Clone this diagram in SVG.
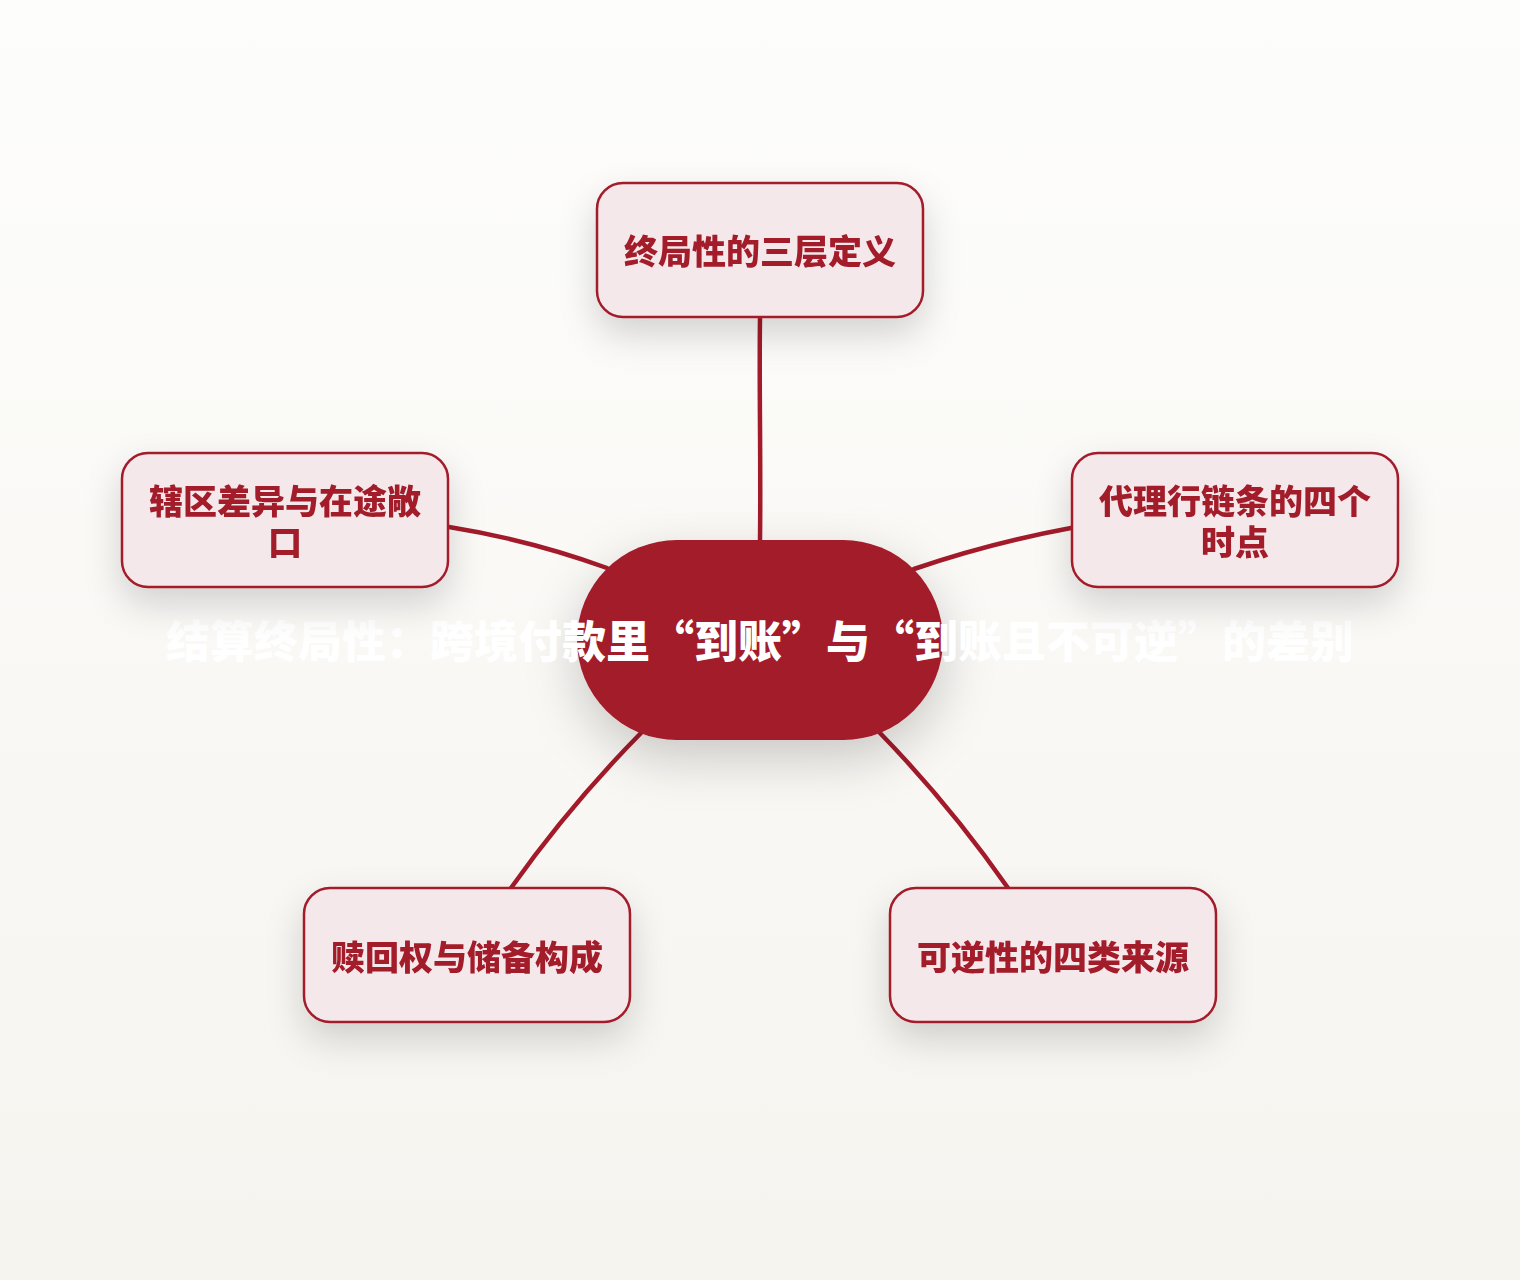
<svg xmlns="http://www.w3.org/2000/svg" width="1520" height="1280" viewBox="0 0 1520 1280">
<defs>
<linearGradient id="bg" x1="0" y1="0" x2="0" y2="1">
<stop offset="0" stop-color="#FDFDFC"/>
<stop offset="1" stop-color="#F6F4EF"/>
</linearGradient>
<filter id="sh" x="-30%" y="-50%" width="160%" height="220%">
<feDropShadow dx="0" dy="16" stdDeviation="18" flood-color="#000" flood-opacity="0.16"/>
</filter>
<filter id="shc" x="-40%" y="-60%" width="180%" height="240%">
<feDropShadow dx="0" dy="18" stdDeviation="26" flood-color="#000" flood-opacity="0.2"/>
</filter>
<style>
.node rect{fill:#F5E8EB;stroke:#A31A2A;stroke-width:2.5}
.node text{fill:#A31A2A;font-family:"Noto Sans CJK SC","Noto Sans",sans-serif;font-weight:900;font-size:34px;text-anchor:middle}
.conn path{fill:none;stroke:#A31A2A;stroke-width:4.5;stroke-linecap:round}
.title{fill:#FFFFFF;font-family:"Noto Sans CJK SC","Noto Sans",sans-serif;font-weight:900;font-size:44px;text-anchor:middle}
</style>
</defs>
<rect width="1520" height="1280" fill="url(#bg)"/>
<g id="connectors" class="conn">
<path d="M760,318 C759,390 761,460 760,540"/>
<path d="M449,527 Q530,540 607,568"/>
<path d="M1071,528 Q990,543 914,569"/>
<path d="M511,888 Q570,805 641,733"/>
<path d="M1008,888 Q950,805 880,733"/>
</g>
<g id="center">
<rect x="577" y="540" width="366" height="200" rx="100" fill="#A31A2A" filter="url(#shc)"/>
<text class="title" x="760" y="658">结算终局性：跨境付款里“到账”与“到账且不可逆”的差别</text>
</g>
<g id="n1" class="node" filter="url(#sh)">
<rect x="597" y="183" width="326" height="134" rx="26"/>
<text x="760" y="264">终局性的三层定义</text>
</g>
<g id="n2" class="node" filter="url(#sh)">
<rect x="122" y="453" width="326" height="134" rx="26"/>
<text x="285" y="514">辖区差异与在途敞</text>
<text x="285" y="555">口</text>
</g>
<g id="n3" class="node" filter="url(#sh)">
<rect x="1072" y="453" width="326" height="134" rx="26"/>
<text x="1235" y="514">代理行链条的四个</text>
<text x="1235" y="555">时点</text>
</g>
<g id="n4" class="node" filter="url(#sh)">
<rect x="304" y="888" width="326" height="134" rx="26"/>
<text x="467" y="970">赎回权与储备构成</text>
</g>
<g id="n5" class="node" filter="url(#sh)">
<rect x="890" y="888" width="326" height="134" rx="26"/>
<text x="1053" y="970">可逆性的四类来源</text>
</g>
</svg>
